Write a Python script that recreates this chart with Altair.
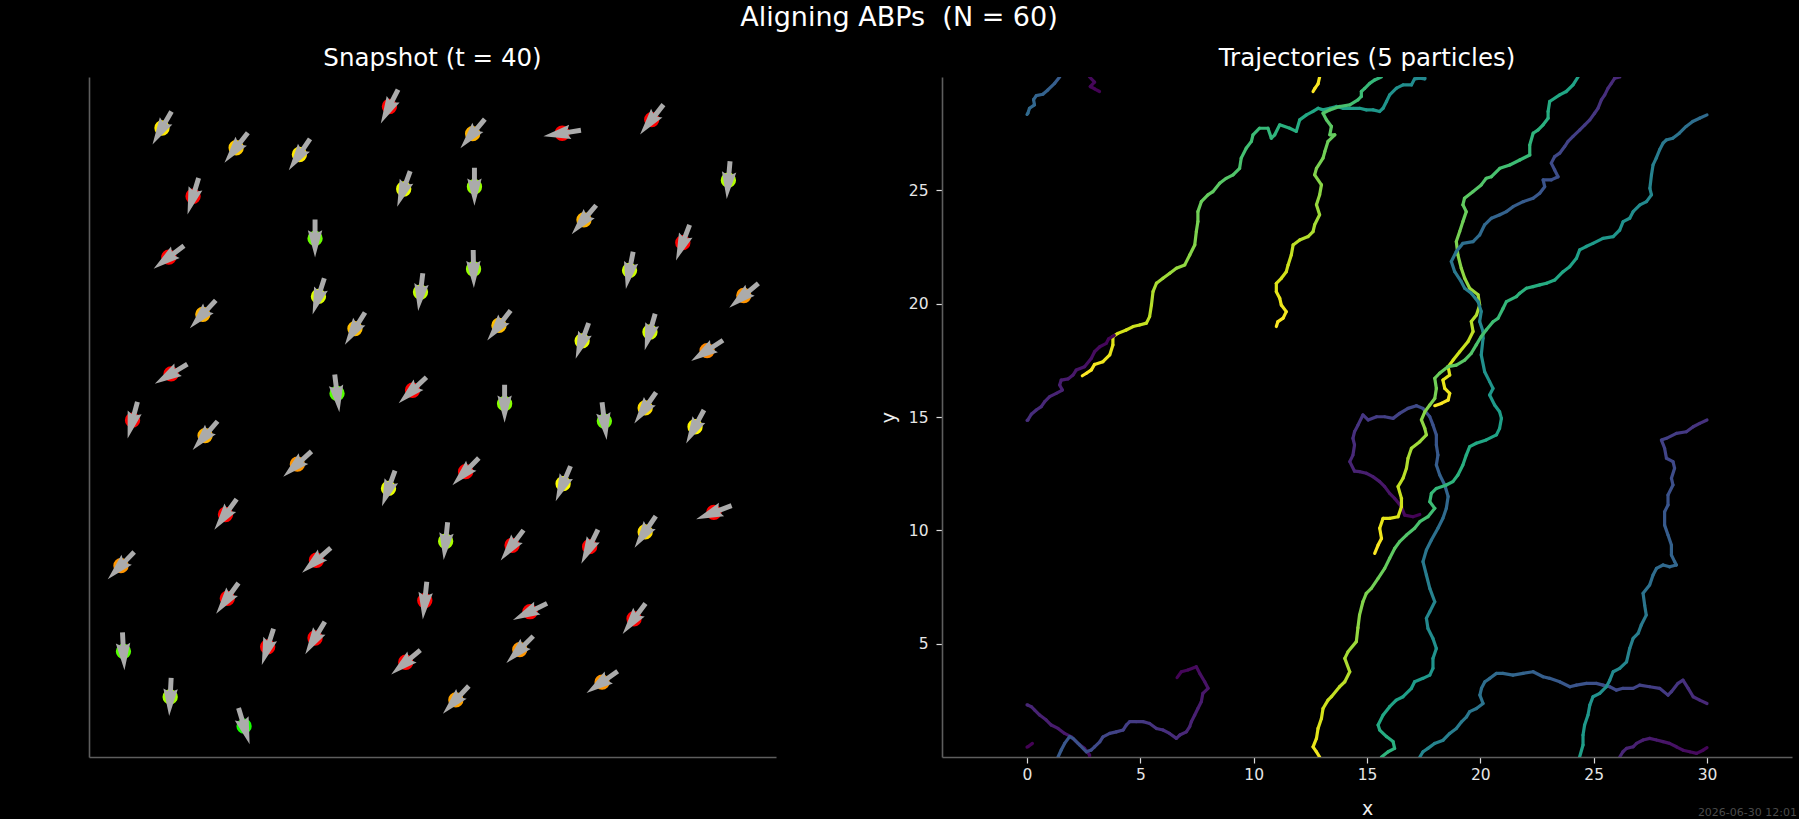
import math
import altair as alt
import pandas as pd

# ---------------- Left panel: snapshot of 60 particles ----------------
part_x = [3.22, 13.25, 16.92, 20.87, 24.82, 6.49, 9.28, 4.59, 13.88, 17.0,
          28.2, 21.83, 26.19, 9.97, 3.52, 16.96, 23.84, 10.12, 14.62, 28.88,
          5.02, 11.73, 18.08, 21.75, 24.74, 27.26, 3.62, 10.94, 14.27, 18.33,
          1.92, 22.73, 24.53, 26.73, 5.12, 9.19, 16.61, 13.21, 20.91, 6.02,
          27.56, 15.73, 18.66, 22.08, 24.53, 1.41, 10.03, 6.1, 14.81, 19.45,
          24.04, 1.52, 7.88, 9.97, 13.97, 19.0, 22.63, 3.58, 6.84, 16.18]
part_y = [27.75, 28.7, 27.5, 27.52, 28.12, 26.88, 26.58, 24.74, 25.06, 25.16,
          25.45, 23.7, 22.69, 22.88, 22.05, 21.53, 21.47, 20.32, 20.51, 20.36,
          19.53, 18.9, 19.04, 18.36, 18.75, 17.93, 16.9, 16.04, 16.18, 15.59,
          14.86, 14.82, 15.4, 14.57, 14.18, 12.92, 12.59, 11.85, 12.06, 10.7,
          10.79, 9.52, 9.34, 9.28, 9.93, 8.44, 8.68, 7.0, 6.9, 6.41,
          6.1, 4.66, 4.86, 5.25, 4.18, 4.74, 3.3, 2.65, 1.36, 2.52]
# heading of each arrow, degrees (counter-clockwise from +x)
part_heading = [-120, -117, -130, -171, -128, -128, -124, -107, -110, -90,
                -95, -130, -111, -90, -143, -89, -101, -108, -97, -140,
                -133, -122, -128, -110, -106, -147, -149, -83, -137, -90,
                -105, -83, -125, -118, -131, -138, -134, -110, -113, -126,
                -159, -96, -127, -116, -124, -134, -139, -126, -96, -154,
                -127, -87, -108, -121, -140, -135, -145, -93, -73, -133]
# dot hue (0 = red ... 120 = green)
part_hue = [55, 0, 42, 0, 0, 48, 55, 0, 65, 85,
            78, 42, 0, 95, 0, 85, 72, 68, 75, 35,
            42, 45, 45, 65, 70, 32, 0, 100, 0, 88,
            0, 95, 52, 58, 42, 35, 0, 65, 60, 0,
            0, 80, 0, 0, 52, 35, 0, 0, 0, 0,
            0, 100, 0, 0, 0, 35, 35, 82, 115, 38]

# ---------------- Right panel: trajectories (pieces between periodic wraps) ----------------
p1a = [(3.2, 29.36), (2.98, 29.48), (2.79, 29.58), (2.98, 29.77), (2.76, 30.0)]
p1b = [(2.76, 0.0), (2.76, 0.09), (2.54, 0.38), (2.25, 0.6), (1.96, 0.89), (1.66, 1.04),
       (1.37, 1.26), (1.07, 1.41), (0.85, 1.63), (0.56, 1.85), (0.34, 2.07), (0.19, 2.22),
       (0.04, 2.29), (0.0, 2.3)]
p1c = [(30.0, 2.36), (29.68, 2.51), (29.39, 2.66), (29.17, 3.03), (28.94, 3.39), (28.72, 3.25),
       (28.43, 2.88), (28.28, 2.73), (27.91, 3.03), (27.47, 3.1), (27.03, 3.17), (26.74, 3.03),
       (26.29, 3.03), (26.0, 2.95), (25.71, 3.1), (25.41, 3.17), (25.12, 3.25), (24.68, 3.25),
       (24.24, 3.17), (23.95, 3.1), (23.5, 3.32), (23.06, 3.47), (22.77, 3.54), (22.33, 3.76),
       (21.88, 3.69), (21.44, 3.61), (21.0, 3.69), (20.71, 3.69), (20.42, 3.47), (20.2, 3.32),
       (20.05, 3.03), (19.98, 2.73), (20.12, 2.36), (19.83, 2.14), (19.53, 2.0), (19.39, 1.77),
       (19.17, 1.55), (18.94, 1.26), (18.65, 1.04), (18.36, 0.74), (17.98, 0.6), (17.69, 0.38),
       (17.47, 0.23), (17.33, 0.0)]
p1d = [(17.55, 30.0), (17.55, 29.92), (17.33, 29.95), (17.1, 29.92), (16.96, 29.65), (16.59, 29.65),
       (16.3, 29.51), (16.0, 29.21), (15.86, 28.92), (15.71, 28.62), (15.56, 28.48), (15.27, 28.55),
       (14.97, 28.55), (14.68, 28.62), (14.39, 28.62), (13.94, 28.62), (13.65, 28.7), (13.36, 28.62),
       (13.06, 28.55), (12.84, 28.62), (12.62, 28.48), (12.33, 28.33), (12.03, 28.11), (11.88, 27.6),
       (11.59, 27.74), (11.15, 27.89), (10.93, 27.45), (10.78, 27.3), (10.63, 27.74), (10.26, 27.74),
       (9.97, 27.45), (9.9, 27.16), (9.67, 26.86), (9.45, 26.42), (9.38, 25.97), (9.09, 25.68),
       (8.79, 25.53), (8.5, 25.31), (8.2, 24.94), (7.98, 24.8), (7.69, 24.5), (7.54, 24.06),
       (7.54, 23.62), (7.47, 23.18), (7.4, 22.59), (7.18, 22.15), (6.96, 21.71), (6.59, 21.56),
       (6.3, 21.34), (6.0, 21.12), (5.71, 20.9), (5.56, 20.53), (5.49, 19.94), (5.41, 19.43),
       (5.27, 19.14), (4.97, 19.06), (4.68, 18.99), (4.38, 18.84), (4.01, 18.69), (3.79, 18.55),
       (3.79, 18.18), (3.65, 17.74), (3.35, 17.44), (2.98, 17.32), (2.84, 17.08), (2.62, 16.93),
       (2.44, 16.82)]

p2a = [(3.85, 18.6), (3.6, 18.45), (3.5, 18.25), (3.21, 18.1), (2.98, 17.88), (2.84, 17.59),
       (2.54, 17.22), (2.17, 17.07), (2.03, 16.85), (1.81, 16.68), (1.51, 16.63), (1.44, 16.41),
       (1.56, 16.19), (1.29, 16.04), (1.0, 15.9), (0.78, 15.68), (0.63, 15.46), (0.41, 15.31),
       (0.19, 15.12), (0.04, 14.87), (0.0, 14.85)]
p2b = [(30.0, 14.87), (29.68, 14.72), (29.39, 14.57), (29.09, 14.35), (28.65, 14.28), (28.21, 14.06),
       (27.99, 13.98), (28.13, 13.62), (28.21, 13.18), (28.5, 13.03), (28.57, 12.74), (28.43, 12.3),
       (28.5, 12.0), (28.28, 11.56), (28.28, 11.12), (28.13, 10.82), (28.13, 10.23), (28.28, 9.79),
       (28.43, 9.35), (28.43, 8.91), (28.57, 8.62), (28.65, 8.47), (28.35, 8.39), (28.06, 8.47),
       (27.77, 8.32), (27.62, 8.03), (27.47, 7.59), (27.18, 7.22), (27.25, 6.7), (27.32, 6.26),
       (27.1, 5.82), (26.96, 5.45), (26.74, 5.23), (26.59, 4.79), (26.45, 4.2), (26.15, 3.91),
       (25.86, 3.76), (25.71, 3.39), (25.56, 3.1), (25.27, 2.81), (24.97, 2.66), (24.83, 2.29),
       (24.75, 1.85), (24.6, 1.41), (24.53, 0.97), (24.53, 0.53), (24.38, 0.0)]
p2c = [(24.31, 30.0), (24.09, 29.65), (23.79, 29.36), (23.5, 29.21), (23.06, 28.92), (22.99, 28.48),
       (22.99, 28.18), (22.77, 27.89), (22.55, 27.67), (22.33, 27.52), (22.18, 27.0), (22.18, 26.56),
       (21.74, 26.34), (21.3, 26.12), (20.86, 25.97), (20.49, 25.6), (20.26, 25.53), (20.04, 25.24),
       (19.67, 24.94), (19.3, 24.65), (19.23, 24.36), (19.38, 24.06), (19.23, 23.62), (19.09, 23.18),
       (18.94, 22.74), (19.01, 22.15), (19.16, 21.56), (19.31, 21.12), (19.53, 20.68), (19.9, 20.39),
       (19.97, 19.94), (19.83, 19.5), (19.6, 19.21), (19.68, 18.77), (19.46, 18.33), (19.09, 17.88),
       (18.8, 17.51), (18.58, 17.22), (18.65, 16.85), (18.35, 16.63), (18.43, 16.26), (18.65, 16.04),
       (18.58, 15.75), (18.28, 15.6), (17.99, 15.5)]

p3a = [(17.33, 10.7), (17.03, 10.6), (16.66, 10.67), (16.52, 11.04), (16.22, 11.41), (16.0, 11.63),
       (15.78, 11.93), (15.56, 12.15), (15.26, 12.37), (14.97, 12.52), (14.67, 12.59), (14.45, 12.61),
       (14.24, 13.03), (14.38, 13.32), (14.45, 13.77), (14.38, 14.06), (14.45, 14.35), (14.6, 14.64),
       (14.82, 15.09), (15.05, 14.87), (15.42, 15.01), (15.78, 15.01), (16.15, 14.94), (16.44, 15.16),
       (16.81, 15.38), (17.18, 15.5), (17.47, 15.38), (17.77, 15.01), (17.91, 14.65), (18.06, 14.21),
       (18.06, 13.77), (18.13, 13.32), (18.06, 12.88), (18.21, 12.44), (18.43, 12.0), (18.58, 11.49),
       (18.5, 10.97), (18.35, 10.53), (18.13, 10.09), (17.84, 9.57), (17.62, 9.13), (17.47, 8.62),
       (17.62, 8.03), (17.77, 7.44), (17.99, 6.85), (17.77, 6.41), (17.62, 6.12), (17.69, 5.67),
       (17.91, 5.23), (18.06, 4.79), (17.91, 4.35), (17.91, 3.91), (17.77, 3.61), (17.47, 3.47),
       (17.1, 3.32), (16.96, 3.03), (16.59, 2.66), (16.29, 2.51), (16.0, 2.22), (15.71, 1.85),
       (15.49, 1.41), (15.56, 1.19), (15.86, 0.9), (16.15, 0.68), (16.22, 0.38), (15.93, 0.23),
       (15.64, 0.0)]
p3b = [(15.63, 30.0), (15.34, 29.87), (15.12, 29.72), (14.9, 29.5), (14.75, 29.36), (14.75, 29.14),
       (14.6, 28.99), (14.24, 28.77), (13.79, 28.7), (13.36, 28.55), (13.06, 28.4), (13.21, 28.11),
       (13.43, 27.82), (13.36, 27.45), (13.58, 27.45), (13.28, 27.16), (13.14, 26.71), (13.06, 26.42),
       (12.77, 25.97), (12.69, 25.68), (12.99, 25.24), (12.91, 24.8), (12.77, 24.36), (12.91, 23.92),
       (12.69, 23.48), (12.62, 23.18), (12.4, 22.96), (12.03, 22.81), (11.74, 22.59), (11.66, 22.15),
       (11.52, 21.71), (11.44, 21.41), (11.22, 21.12), (11.0, 20.9), (11.0, 20.53), (11.15, 20.24),
       (11.22, 19.94), (11.44, 19.65), (11.3, 19.36), (11.07, 19.21), (11.0, 18.99)]

p4a = [(0.24, 0.6), (0.04, 0.45), (0.0, 0.44)]
p4b = [(30.0, 0.41), (29.83, 0.3), (29.54, 0.16), (29.24, 0.23), (28.94, 0.3), (28.65, 0.45),
       (28.35, 0.6), (28.06, 0.68), (27.77, 0.75), (27.47, 0.82), (27.18, 0.75), (26.89, 0.6),
       (26.74, 0.45), (26.45, 0.38), (26.29, 0.23), (26.15, 0.0)]
p4c = [(26.15, 30.0), (25.93, 29.95), (25.78, 29.72), (25.63, 29.5), (25.49, 29.21), (25.34, 28.99),
       (25.19, 28.62), (25.04, 28.4), (24.83, 28.11), (24.61, 27.89), (24.39, 27.67), (24.09, 27.38),
       (23.87, 27.16), (23.72, 26.93), (23.5, 26.64), (23.28, 26.49), (23.13, 26.2), (23.28, 25.9),
       (23.43, 25.6), (23.13, 25.46), (22.77, 25.46), (22.84, 25.16), (22.62, 24.87), (22.33, 24.65),
       (21.89, 24.5), (21.44, 24.28), (21.15, 24.06), (20.86, 23.92), (20.49, 23.77), (20.19, 23.48),
       (19.97, 23.03), (19.68, 22.74), (19.23, 22.66), (18.94, 22.3), (18.72, 21.86), (18.87, 21.41),
       (19.16, 20.97), (19.31, 20.68), (19.6, 20.46), (19.9, 20.09), (20.04, 19.65), (19.97, 19.21),
       (20.12, 18.77), (20.12, 18.47), (20.04, 17.74), (20.19, 17.0), (20.41, 16.56), (20.56, 16.26),
       (20.41, 15.97), (20.63, 15.53), (20.85, 15.23), (20.93, 14.94), (20.85, 14.5), (20.71, 14.21),
       (20.26, 13.99), (19.82, 13.84), (19.53, 13.69), (19.38, 13.32), (19.23, 12.88), (19.01, 12.44),
       (18.79, 12.15), (18.5, 12.0), (18.06, 11.85), (17.84, 11.63), (17.77, 11.26), (17.99, 10.97),
       (17.69, 10.6), (17.33, 10.38), (17.1, 10.09), (16.74, 9.79), (16.44, 9.5), (16.22, 9.2),
       (16.0, 8.77), (15.78, 8.32), (15.49, 7.88), (15.19, 7.44), (14.97, 7.22), (14.82, 6.85),
       (14.67, 6.26), (14.6, 5.7), (14.53, 5.09), (14.16, 4.64), (14.02, 4.35), (14.24, 3.76),
       (14.02, 3.32), (13.79, 3.1), (13.43, 2.66), (13.28, 2.51), (13.06, 2.14), (12.99, 1.7),
       (12.84, 1.26), (12.77, 0.82), (12.62, 0.45), (12.77, 0.23), (12.91, 0.0)]
p4d = [(12.91, 30.0), (12.84, 29.7), (12.7, 29.5), (12.62, 29.36)]

p5a = [(6.62, 3.5), (6.81, 3.76), (7.1, 3.84), (7.47, 3.98), (7.62, 3.69), (7.84, 3.32), (7.99, 3.03),
       (7.76, 2.81), (7.69, 2.44), (7.54, 2.14), (7.4, 1.85), (7.25, 1.56), (7.18, 1.34), (7.03, 1.11),
       (6.74, 0.97), (6.59, 0.82), (6.29, 1.04), (6.0, 1.19), (5.71, 1.26), (5.41, 1.48), (5.12, 1.56),
       (4.82, 1.56), (4.53, 1.56), (4.38, 1.41), (4.24, 1.19), (3.94, 1.11), (3.65, 1.04), (3.35, 0.89),
       (3.21, 0.67), (2.98, 0.45), (2.84, 0.31), (2.62, 0.23), (2.32, 0.53), (2.03, 0.82), (1.88, 0.9),
       (1.66, 0.6), (1.51, 0.31), (1.37, 0.0)]
p5b = [(1.44, 30.0), (1.22, 29.72), (0.92, 29.43), (0.7, 29.24), (0.41, 29.18), (0.29, 29.0),
       (0.33, 28.77), (0.11, 28.62), (0.04, 28.4), (0.0, 28.35)]
p5c = [(30.0, 28.33), (29.67, 28.18), (29.37, 28.04), (29.08, 27.82), (28.78, 27.52), (28.49, 27.3),
       (28.2, 27.22), (28.06, 27.08), (27.91, 26.79), (27.76, 26.42), (27.62, 26.12), (27.55, 25.68),
       (27.48, 25.09), (27.55, 24.8), (27.33, 24.5), (27.04, 24.36), (26.74, 24.06), (26.59, 23.77),
       (26.3, 23.62), (26.15, 23.25), (25.86, 22.96), (25.41, 22.88), (24.97, 22.66), (24.67, 22.52),
       (24.38, 22.37), (24.24, 22.0), (23.94, 21.63), (23.65, 21.41), (23.28, 21.04), (22.92, 20.9),
       (22.62, 20.83), (22.33, 20.75), (22.03, 20.68), (21.74, 20.46), (21.59, 20.31), (21.15, 20.09),
       (21.0, 19.79), (20.78, 19.35), (20.56, 19.2), (20.26, 18.84), (20.04, 18.55), (19.82, 18.18),
       (19.6, 17.81), (19.31, 17.51), (18.94, 17.29), (18.57, 17.22), (18.2, 16.93), (17.99, 16.71),
       (18.06, 16.26), (17.99, 15.82), (17.77, 15.53), (17.55, 15.23), (17.4, 14.87), (17.55, 14.5),
       (17.62, 14.21), (17.33, 13.91), (16.96, 13.62), (16.81, 13.18), (16.74, 12.74), (16.59, 12.3),
       (16.37, 11.93), (16.52, 11.41), (16.52, 11.04), (16.37, 10.6), (16.0, 10.53), (15.71, 10.53),
       (15.56, 10.09), (15.64, 9.64), (15.49, 9.35), (15.34, 8.98)]

particles = [[p1a, p1b, p1c, p1d], [p2a, p2b, p2c], [p3a, p3b],
             [p4a, p4b, p4c, p4d], [p5a, p5b, p5c]]

x_ticks = [0, 5, 10, 15, 20, 25, 30]
y_ticks = [5, 10, 15, 20, 25]
stamp = "2026-06-30 12:01"

FONT = "DejaVu Sans"

# ---- build tables ----
left_df = pd.DataFrame({
    "x": part_x, "y": part_y, "hue": part_hue,
    "rot": [(90 - h) % 360 for h in part_heading],
})

rows = []
for pid, pieces in enumerate(particles):
    segs = []
    total = 0.0
    for piece in pieces:
        for (x0, y0), (x1, y1) in zip(piece[:-1], piece[1:]):
            L = math.hypot(x1 - x0, y1 - y0)
            segs.append((x0, y0, x1, y1, total + L / 2))
            total += L
    for x0, y0, x1, y1, m in segs:
        rows.append({"pid": pid, "x": x0, "y": y0, "x2": x1, "y2": y1, "t": m / total})
traj_df = pd.DataFrame(rows)

ARROW = "M-0.13,1L-0.13,0.3L-0.38,0.43L0,-1L0.38,0.43L0.13,0.3L0.13,1Z"

SPINE = "#5e5e5e"

lx = alt.X("x:Q", scale=alt.Scale(domain=[0, 30.3], nice=False, zero=False),
           axis=alt.Axis(labels=False, ticks=False, grid=False, title=None,
                         domainColor=SPINE, domainWidth=1.6))
ly = alt.Y("y:Q", scale=alt.Scale(domain=[0, 30], nice=False, zero=False),
           axis=alt.Axis(labels=False, ticks=False, grid=False, title=None,
                         domainColor=SPINE, domainWidth=1.6))

dots = alt.Chart(left_df).mark_circle(size=235, opacity=1).encode(
    x=lx, y=ly,
    color=alt.Color("hue:Q", legend=None,
                    scale=alt.Scale(domain=[0, 120],
                                    range=["hsl(0,100%,50%)", "hsl(120,100%,50%)"],
                                    interpolate="hsl")),
)
arrows = alt.Chart(left_df).mark_point(
    shape=ARROW, size=1444, filled=True, color="#ababab", opacity=1, strokeWidth=0
).encode(
    x=alt.X("x:Q"), y=alt.Y("y:Q"),
    angle=alt.Angle("rot:Q", scale=None),
)
left = alt.layer(dots, arrows).properties(
    width=687, height=680,
    title=alt.TitleParams("Snapshot (t = 40)", fontSize=24.5, color="#ffffff",
                          font=FONT, fontWeight="normal", anchor="middle", offset=6),
)

traj = alt.Chart(traj_df).mark_rule(strokeWidth=3.2, strokeCap="round", clip=True).encode(
    x=alt.X("x:Q", scale=alt.Scale(domain=[-3.75, 33.75], nice=False, zero=False),
            axis=alt.Axis(values=x_ticks, title="x", grid=False, labelFlush=False,
                          labelOverlap=False, domainColor=SPINE, domainWidth=1.6,
                          tickColor="#dddddd", tickSize=6, tickWidth=1.2,
                          labelColor="#e6e6e6", labelFontSize=15.5, labelFont=FONT,
                          labelPadding=4, titleColor="#eeeeee", titleFontSize=19,
                          titleFont=FONT, titleFontWeight="normal", titlePadding=17)),
    y=alt.Y("y:Q", scale=alt.Scale(domain=[0, 30], nice=False, zero=False),
            axis=alt.Axis(values=y_ticks, title="y", grid=False, labelFlush=False,
                          labelOverlap=False, domainColor=SPINE, domainWidth=1.6,
                          tickColor="#dddddd", tickSize=6, tickWidth=1.2,
                          labelColor="#e6e6e6", labelFontSize=15.5, labelFont=FONT,
                          labelPadding=8, titleColor="#eeeeee", titleFontSize=19,
                          titleFont=FONT, titleFontWeight="normal", titlePadding=10)),
    x2="x2:Q", y2="y2:Q",
    color=alt.Color("t:Q", legend=None, scale=alt.Scale(scheme="viridis", domain=[0, 1])),
    detail="pid:N",
)
stamp_mark = alt.Chart(pd.DataFrame({"s": [stamp]})).mark_text(
    align="right", baseline="middle", fontSize=11, font=FONT, color="#4a4a4a"
).encode(x=alt.value(855), y=alt.value(736), text="s:N")

right = alt.layer(traj, stamp_mark).properties(
    width=850, height=680,
    title=alt.TitleParams("Trajectories (5 particles)", fontSize=24.5, color="#ffffff",
                          font=FONT, fontWeight="normal", anchor="middle", offset=6),
)

chart = alt.hconcat(left, right, spacing=166, bounds="flush").resolve_scale(
    color="independent"
).properties(
    title=alt.TitleParams("Aligning ABPs\u00a0 (N = 60)", fontSize=27, color="#ffffff",
                          font=FONT, fontWeight="normal", anchor="middle", dx=-44, offset=13.5),
    padding={"left": 89, "top": 4, "right": 2, "bottom": 0},
).configure(background="black").configure_view(strokeWidth=0)

chart.save("out.html", embed_options={"renderer": "svg", "actions": False})
